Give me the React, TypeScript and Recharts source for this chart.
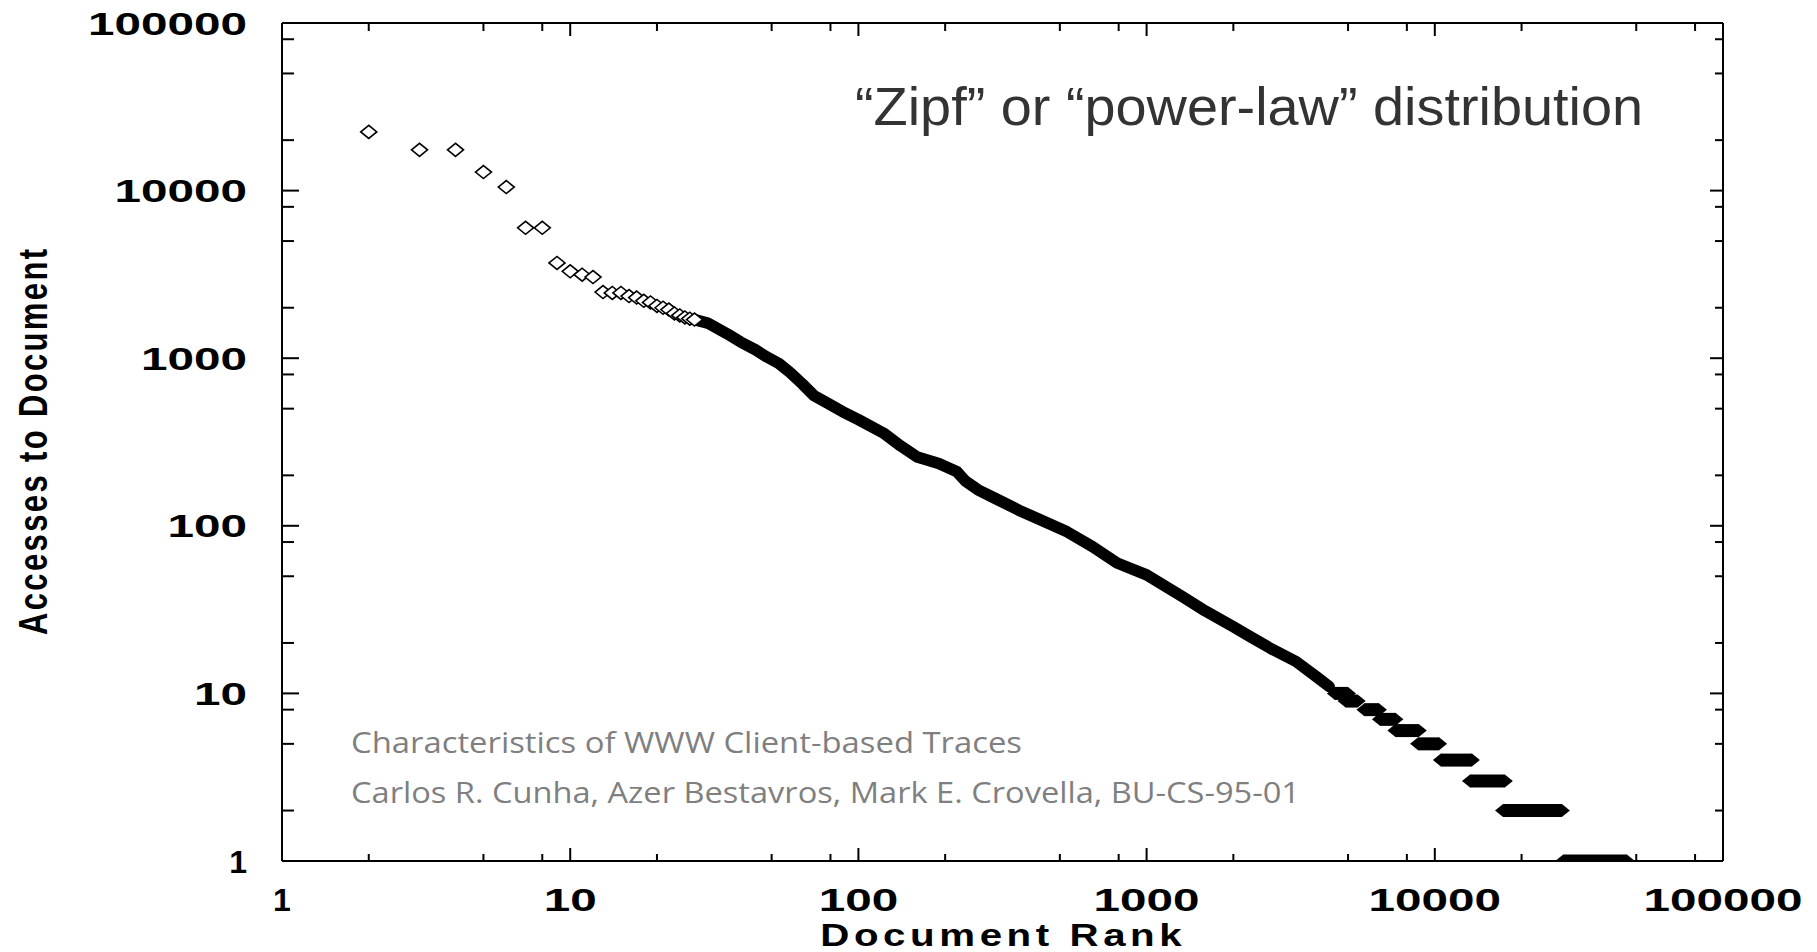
import { ComposedChart, Line, Scatter, XAxis, YAxis } from 'recharts';

// first ranks, drawn as open diamonds
const headRanks = [2, 3, 4, 5, 6, 7, 8, 9, 10, 11, 12, 13, 14, 15, 16, 17, 18, 19, 20, 21, 22, 23, 24, 25, 26, 27];
const headAccesses = [22400, 17500, 17500, 12900, 10500, 6000, 6000, 3700, 3300, 3150, 3050, 2480, 2450, 2450, 2350, 2300, 2200, 2150, 2050, 2000, 1950, 1850, 1800, 1750, 1720, 1700];

// dense middle of the distribution
const bodyRanks = [27, 30, 35, 39, 44, 48, 53, 58, 64, 70, 78, 88, 100, 122, 140, 160, 190, 220, 235, 260, 300, 360, 420, 530, 650, 790, 1000, 1340, 1600, 2000, 2300, 2700, 3300, 3900, 4300];
const bodyAccesses = [1700, 1620, 1400, 1250, 1120, 1020, 930, 820, 700, 600, 540, 480, 430, 358, 300, 257, 235, 210, 185, 164, 145, 124, 110, 92, 75, 60, 51, 37.5, 31, 25, 21.7, 18.5, 15.5, 12.5, 11];

// tail: runs of documents with the same access count
const runLevels = [10, 9, 8, 7, 6, 5, 4, 3, 2, 1];
const runFirstRank = [4500, 4900, 5700, 6450, 7300, 8750, 10500, 13250, 17250, 27900];
const runLastRank = [5000, 5400, 6400, 7300, 8800, 10350, 13450, 17500, 27600, 46400];

const axisTicks = [1, 2, 5, 8, 10, 20, 50, 80, 100, 200, 500, 800, 1000, 2000, 5000, 8000, 10000, 20000, 50000, 80000, 100000];
const labelledTicks = [1, 10, 100, 1000, 10000, 100000];

const head = headRanks.map((rank, i) => ({ rank, acc: headAccesses[i] }));
const body = bodyRanks.map((rank, i) => ({ rank, acc: bodyAccesses[i] }));
const runs = runLevels.map((acc, i) => [
  { rank: runFirstRank[i], acc },
  { rank: runLastRank[i], acc },
]);

const tickFont = {
  fontFamily: '"Liberation Sans", Arial, sans-serif',
  fontWeight: 700,
  fontSize: 32,
  fill: '#000',
};
const digitWidth = 26.5;
const axisLine = { stroke: '#000', strokeWidth: 2 };

const TickLabel = ({ x, y, value, anchor }: any) => {
  const s = String(value);
  return (
    <text
      x={x}
      y={y}
      textAnchor={anchor}
      {...tickFont}
      textLength={s.length > 1 ? s.length * digitWidth : undefined}
      lengthAdjust="spacingAndGlyphs"
    >
      {s}
    </text>
  );
};

const BottomTick = (props: any) => {
  const { x, y, payload } = props;
  const major = labelledTicks.includes(payload.value);
  return (
    <g>
      <line x1={x} x2={x} y1={y} y2={y - (major ? 13 : 7)} stroke="#000" strokeWidth={2} />
      {major && <TickLabel x={x} y={y + 50} value={payload.value} anchor="middle" />}
    </g>
  );
};

const TopTick = (props: any) => {
  const { x, y, payload } = props;
  const major = labelledTicks.includes(payload.value);
  return <line x1={x} x2={x} y1={y} y2={y + (major ? 13 : 8)} stroke="#000" strokeWidth={2} />;
};

const LeftTick = (props: any) => {
  const { x, y, payload } = props;
  const major = labelledTicks.includes(payload.value);
  return (
    <g>
      <line x1={x} x2={x + (major ? 17 : 12)} y1={y} y2={y} stroke="#000" strokeWidth={2} />
      {major && <TickLabel x={x - 35} y={y + 11.5} value={payload.value} anchor="end" />}
    </g>
  );
};

const RightTick = (props: any) => {
  const { x, y, payload } = props;
  const major = labelledTicks.includes(payload.value);
  return <line x1={x} x2={x - (major ? 13 : 8)} y1={y} y2={y} stroke="#000" strokeWidth={2} />;
};

const OpenDiamond = (props: any) => {
  const { cx, cy } = props;
  return (
    <path
      d={`M${cx - 8},${cy} L${cx},${cy - 6.5} L${cx + 8},${cy} L${cx},${cy + 6.5} Z`}
      fill="#fff"
      stroke="#000"
      strokeWidth={1.6}
    />
  );
};

const RunEnd = (props: any) => {
  const { cx, cy, index } = props;
  if (cx == null || cy == null) return <g key={index} />;
  return (
    <path
      key={index}
      d={`M${cx - 8},${cy} L${cx},${cy - 6.5} L${cx + 8},${cy} L${cx},${cy + 6.5} Z`}
      fill="#000"
      stroke="none"
    />
  );
};

const Nothing = () => <g />;

const logAxis = {
  type: 'number' as const,
  scale: 'log' as const,
  domain: [1, 100000],
  allowDataOverflow: true,
  ticks: axisTicks,
  interval: 0 as const,
  tickSize: 0,
  tickMargin: 0,
  tickLine: false,
  axisLine,
};

const App = () => {
  return (
    <div style={{ position: 'absolute', left: 0, top: 0, width: 1817, height: 952, background: '#fff' }}>
      <ComposedChart width={1817} height={952} margin={{ top: 22, right: 93, bottom: 0, left: 0 }}>
        <XAxis xAxisId="b" dataKey="rank" {...logAxis} height={91} tick={<BottomTick />} />
        <XAxis xAxisId="t" dataKey="rank" orientation="top" {...logAxis} height={1} tick={<TopTick />} />
        <YAxis yAxisId="l" {...logAxis} width={282} tick={<LeftTick />} />
        <YAxis yAxisId="r" orientation="right" {...logAxis} width={1} tick={<RightTick />} />
        <Line
          xAxisId="b"
          yAxisId="l"
          data={body}
          dataKey="acc"
          stroke="#000"
          strokeWidth={11.5}
          strokeLinejoin="round"
          strokeLinecap="round"
          dot={false}
          activeDot={false}
          isAnimationActive={false}
        />
        {runs.map((d, i) => (
          <Line
            key={i}
            xAxisId="b"
            yAxisId="l"
            data={d}
            dataKey="acc"
            stroke="#000"
            strokeWidth={13}
            strokeLinecap="butt"
            dot={<RunEnd />}
            activeDot={false}
            isAnimationActive={false}
          />
        ))}
        <Scatter
          xAxisId="b"
          yAxisId="l"
          data={head}
          dataKey="acc"
          shape={<OpenDiamond />}
          isAnimationActive={false}
        />
        {/* keeps the frame axes (top / right) bound to data */}
        <Scatter
          xAxisId="t"
          yAxisId="r"
          data={head}
          dataKey="acc"
          shape={<Nothing />}
          isAnimationActive={false}
        />
      </ComposedChart>
      <svg
        width={1817}
        height={952}
        style={{ position: 'absolute', left: 0, top: 0, pointerEvents: 'none' }}
      >
        <text
          transform="translate(47,442) rotate(-90) scale(1,1.3)"
          textAnchor="middle"
          {...tickFont}
          fontSize={31}
          textLength={386}
          lengthAdjust="spacing"
        >
          Accesses to Document
        </text>
        <text
          transform="translate(1001,946) scale(1.3,1)"
          textAnchor="middle"
          {...tickFont}
          fontSize={31}
          textLength={278}
          lengthAdjust="spacing"
        >
          Document Rank
        </text>
        <text
          x={855}
          y={125}
          fontFamily='"Liberation Sans", Arial, sans-serif'
          fontSize={53}
          fill="#333"
          textLength={788}
          lengthAdjust="spacingAndGlyphs"
        >
          “Zipf” or “power-law” distribution
        </text>
        <text
          x={351}
          y={753}
          fontFamily='"Open Sans", sans-serif'
          fontSize={29}
          fill="#7f7f7f"
          textLength={671}
          lengthAdjust="spacingAndGlyphs"
        >
          Characteristics of WWW Client-based Traces
        </text>
        <text
          x={351}
          y={803}
          fontFamily='"Open Sans", sans-serif'
          fontSize={29}
          fill="#7f7f7f"
          textLength={949}
          lengthAdjust="spacingAndGlyphs"
        >
          Carlos R. Cunha, Azer Bestavros, Mark E. Crovella, BU-CS-95-01
        </text>
      </svg>
    </div>
  );
};

export default App;
